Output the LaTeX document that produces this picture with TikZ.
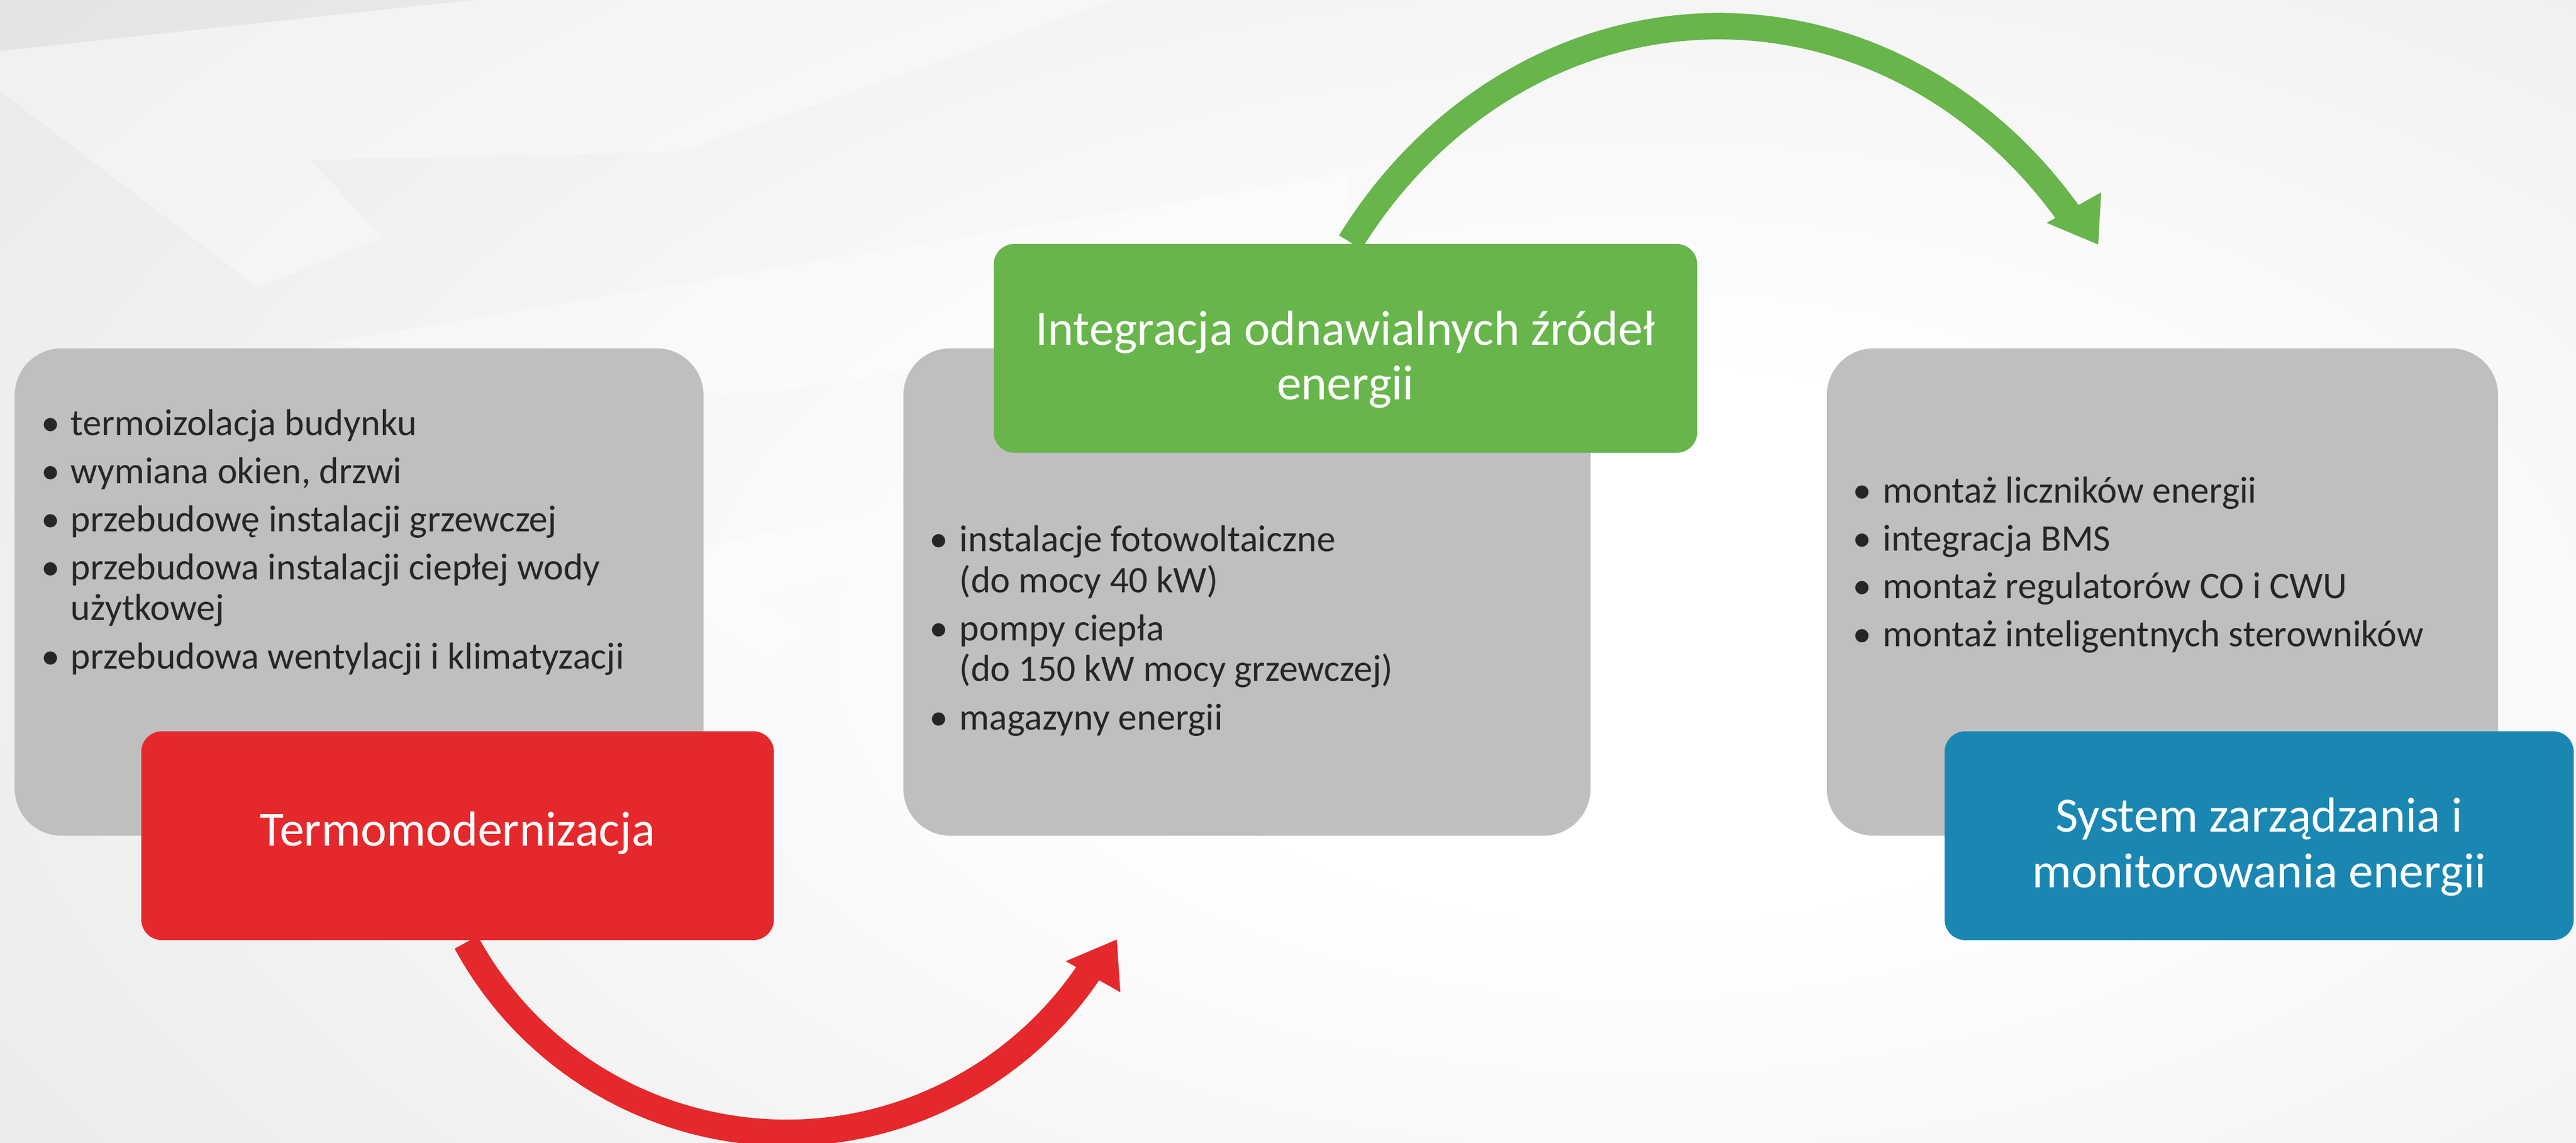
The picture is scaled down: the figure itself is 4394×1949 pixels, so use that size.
\documentclass[tikz,border=0pt]{standalone}
\usepackage{fontspec}
\setmainfont{Carlito}
\usetikzlibrary{calc}
\definecolor{boxgray}{HTML}{BFBFBF}
\definecolor{tred}{HTML}{E5282B}
\definecolor{tgreen}{HTML}{67B54B}
\definecolor{tblue}{HTML}{1A87B3}
\definecolor{txtgray}{HTML}{262626}
\definecolor{bgA}{HTML}{EEEEEE}
\definecolor{bgB}{HTML}{E1E1E1}
\definecolor{bgC}{HTML}{D7D7D7}
\pgfdeclareradialshading{bgshade}{\pgfpoint{0bp}{0bp}}{color(0bp)=(white); color(7bp)=(white); color(24bp)=(bgA); color(38bp)=(bgB); color(50bp)=(bgC)}
\begin{document}
\begin{tikzpicture}[x=0.25pt,y=-0.25pt,
  graybox/.style={fill=boxgray, rounded corners=20pt, inner sep=0pt, minimum height=207.75pt},
  colbox/.style={rounded corners=8.75pt, inner sep=0pt, minimum height=89pt},
  item/.style={anchor=base west, inner sep=0pt, text=txtgray, font=\fontsize{16pt}{19pt}\selectfont},
  bul/.style={anchor=base, inner sep=0pt, text=txtgray, font=\fontsize{16pt}{19pt}\selectfont},
  title/.style={anchor=base, inner sep=0pt, text=white, font=\fontsize{21pt}{23pt}\selectfont},
  band/.style={line width=11.25pt},
  bglight/.style={fill=white, fill opacity=0.35, draw=none},
  bgdark/.style={fill=black, fill opacity=0.025, draw=none}
]
\useasboundingbox (0,0) rectangle (4394,1949);
% background
\begin{scope}
  \clip (0,0) rectangle (4394,1949);
  \shade[shading=bgshade] (-200,-500) rectangle (5800,2700);
  \fill[bgdark] (0,0) -- (808,0) -- (0,87) -- cycle;
  \fill[bglight] (0,87) -- (808,0) -- (1902,0) -- (1162,259) -- (528,273) -- (653,404) -- (441,491) -- (0,155) -- cycle;
  \fill[bglight] (559,584) -- (2300,296) -- (2300,440) -- (1467,649) -- (1199,681) -- cycle;
  \fill[bglight] (1199,932) -- (1541,858) -- (1541,950) -- (1299,1022) -- (1392,1079) -- (1303,1131) -- (1199,1057) -- cycle;
\end{scope}

% gray boxes
\node[graybox, minimum width=293.75pt] (lgray) at (612.5,1009.5) {};
\node[graybox, minimum width=293pt] (mgray) at (2127,1009.5) {};
\node[graybox, minimum width=286.25pt] (rgray) at (3688.5,1009.5) {};

% left list
\node[bul] (lb1) at (86,742) {•};  \node[item] (lt1) at (120,742) {termoizolacja budynku};
\node[bul] (lb2) at (86,824) {•};  \node[item] (lt2) at (120,824) {wymiana okien, drzwi};
\node[bul] (lb3) at (86,906) {•};  \node[item] (lt3) at (120,906) {przebudowę instalacji grzewczej};
\node[bul] (lb4) at (86,988) {•};  \node[item] (lt4) at (120,988) {przebudowa instalacji ciepłej wody};
\node[item] (lt4b) at (120,1057) {użytkowej};
\node[bul] (lb5) at (86,1140) {•}; \node[item] (lt5) at (120,1140) {przebudowa wentylacji i klimatyzacji};

% middle list
\node[bul] (mb1) at (1601,940) {•};  \node[item] (mt1) at (1636,940) {instalacje fotowoltaiczne};
\node[item] (mt1b) at (1636,1010) {(do mocy 40 kW)};
\node[bul] (mb2) at (1601,1092) {•}; \node[item] (mt2) at (1636,1092) {pompy ciepła};
\node[item] (mt2b) at (1636,1161) {(do 150 kW mocy grzewczej)};
\node[bul] (mb3) at (1601,1244) {•}; \node[item] (mt3) at (1636,1244) {magazyny energii};

% right list
\node[bul] (rb1) at (3176,857) {•};  \node[item] (rt1) at (3211,857) {montaż liczników energii};
\node[bul] (rb2) at (3176,939) {•};  \node[item] (rt2) at (3211,939) {integracja BMS};
\node[bul] (rb3) at (3176,1020) {•}; \node[item] (rt3) at (3211,1020) {montaż regulatorów CO i CWU};
\node[bul] (rb4) at (3176,1102) {•}; \node[item] (rt4) at (3211,1102) {montaż inteligentnych sterowników};

% coloured boxes
\node[colbox, fill=tred, minimum width=269.75pt] (red) at (780.5,1425) {};
\node[colbox, fill=tgreen, minimum width=300pt] (green) at (2295,594) {};
\node[colbox, fill=tblue, minimum width=268.25pt] (blue) at (3853.5,1425) {};

\node[title] (redt) at (780.5,1442) {Termomodernizacja};
\node[title] (greent1) at (2295,588) {Integracja odnawialnych źródeł};
\node[title] (greent2) at (2295,681) {energii};
\node[title] (bluet1) at (3853.5,1418) {System zarządzania i};
\node[title] (bluet2) at (3853.5,1513) {monitorowania energii};

% red curved arrow
\coordinate (r0) at ($(red.south west)+(555,3)$);
\draw[band, tred] (r0) arc[start angle=151.45, end angle=34.1, radius=622] coordinate (r1);
\coordinate (rtip) at (1905,1602);
\fill[tred] (rtip) -- (1818,1639) -- (1911,1692) -- cycle;

% green curved arrow
\coordinate (g0) at ($(green.north west)+(609,-2)$);
\draw[band, tgreen] (g0) arc[start angle=214.5, end angle=321.5, x radius=763, y radius=850] coordinate (g1);
\coordinate (gtip) at (3579,417);
\fill[tgreen] (gtip) -- (3491,380) -- (3584,328) -- cycle;
\end{tikzpicture}
\end{document}
